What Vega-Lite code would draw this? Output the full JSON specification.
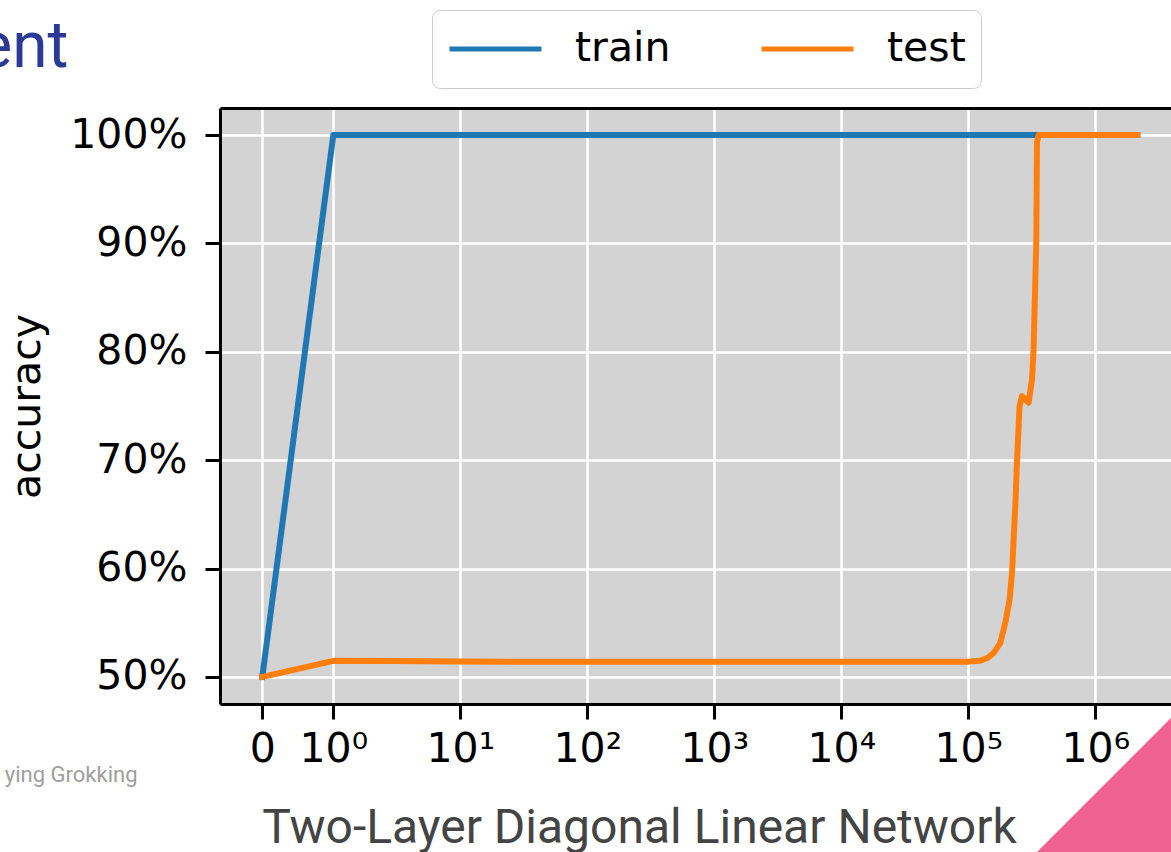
{
  "$schema": "https://vega.github.io/schema/vega-lite/v6.json",
  "width": 951,
  "height": 596,
  "autosize": {"type": "none"},
  "padding": {"left": 220, "top": 108, "right": 0, "bottom": 148},
  "background": "white",
  "config": {
    "font": "DejaVu Sans",
    "view": {"fill": "#d3d3d3", "stroke": null}
  },
  "resolve": {"axis": {"x": "independent", "y": "independent"}},
  "layer": [
    {
      "data": {
        "values": [
          {"step": 0, "accuracy": 0.5, "split": "train"},
          {"step": 1, "accuracy": 1.0, "split": "train"},
          {"step": 2140000, "accuracy": 1.0, "split": "train"},
          {"step": 0, "accuracy": 0.5, "split": "test"},
          {"step": 1, "accuracy": 0.5148, "split": "test"},
          {"step": 3, "accuracy": 0.5146, "split": "test"},
          {"step": 10, "accuracy": 0.5142, "split": "test"},
          {"step": 100, "accuracy": 0.5139, "split": "test"},
          {"step": 1000, "accuracy": 0.5139, "split": "test"},
          {"step": 10000, "accuracy": 0.5139, "split": "test"},
          {"step": 100000, "accuracy": 0.5141, "split": "test"},
          {"step": 124300, "accuracy": 0.5150, "split": "test"},
          {"step": 140000, "accuracy": 0.5172, "split": "test"},
          {"step": 158000, "accuracy": 0.5219, "split": "test"},
          {"step": 178700, "accuracy": 0.5314, "split": "test"},
          {"step": 195600, "accuracy": 0.5499, "split": "test"},
          {"step": 211400, "accuracy": 0.5712, "split": "test"},
          {"step": 221000, "accuracy": 0.5961, "split": "test"},
          {"step": 227400, "accuracy": 0.6266, "split": "test"},
          {"step": 235000, "accuracy": 0.6600, "split": "test"},
          {"step": 241600, "accuracy": 0.6978, "split": "test"},
          {"step": 253300, "accuracy": 0.7498, "split": "test"},
          {"step": 264700, "accuracy": 0.7591, "split": "test"},
          {"step": 298500, "accuracy": 0.7530, "split": "test"},
          {"step": 317500, "accuracy": 0.7745, "split": "test"},
          {"step": 326700, "accuracy": 0.8022, "split": "test"},
          {"step": 343000, "accuracy": 0.9011, "split": "test"},
          {"step": 347500, "accuracy": 0.9935, "split": "test"},
          {"step": 358000, "accuracy": 1.0, "split": "test"},
          {"step": 2140000, "accuracy": 1.0, "split": "test"}
        ]
      },
      "mark": {"type": "line", "strokeWidth": 6, "strokeCap": "square", "strokeJoin": "round"},
      "encoding": {
        "x": {
          "field": "step",
          "type": "quantitative",
          "scale": {
            "type": "symlog",
            "constant": 0.001,
            "domain": [-1, 0, 1, 1000000, 3940000],
            "range": [0, 42.3, 113.3, 875.3, 951],
            "nice": false,
            "zero": false
          },
          "axis": {
            "orient": "bottom",
            "values": [0, 1, 10, 100, 1000, 10000, 100000, 1000000],
            "labelExpr": "datum.value == 0 ? '0' : datum.value == 1 ? '10⁰' : datum.value == 10 ? '10¹' : datum.value == 100 ? '10²' : datum.value == 1000 ? '10³' : datum.value == 10000 ? '10⁴' : datum.value == 100000 ? '10⁵' : '10⁶'",
            "labelOverlap": false,
            "labelFlush": false,
            "labelFont": "DejaVu Sans",
            "labelFontSize": 41,
            "labelColor": "black",
            "labelPadding": 10,
            "domain": true,
            "domainColor": "black",
            "domainWidth": 3,
            "ticks": true,
            "tickColor": "black",
            "tickWidth": 3,
            "tickSize": 15,
            "grid": true,
            "gridColor": "white",
            "gridWidth": 2.5,
            "gridOpacity": 1,
            "title": "Two-Layer Diagonal Linear Network",
            "titleFont": "Roboto",
            "titleFontSize": 48,
            "titleFontWeight": "normal",
            "titleColor": "#444444",
            "titleX": 419,
            "titleY": 138,
            "titleAlign": "center",
            "titleBaseline": "alphabetic"
          }
        },
        "y": {
          "field": "accuracy",
          "type": "quantitative",
          "scale": {"domain": [0.475, 1.025], "nice": false, "zero": false},
          "axis": {
            "orient": "left",
            "values": [0.5, 0.6, 0.7, 0.8, 0.9, 1.0],
            "format": ".0%",
            "labelFont": "DejaVu Sans",
            "labelFontSize": 41,
            "labelColor": "black",
            "labelPadding": 18,
            "domain": true,
            "domainColor": "black",
            "domainWidth": 3,
            "ticks": true,
            "tickColor": "black",
            "tickWidth": 3,
            "tickSize": 15,
            "grid": true,
            "gridColor": "white",
            "gridWidth": 2.5,
            "gridOpacity": 1,
            "title": "accuracy",
            "titleFont": "DejaVu Sans",
            "titleFontSize": 41,
            "titleFontWeight": "normal",
            "titleColor": "black",
            "titleX": -181,
            "titleY": 298,
            "titleAngle": 270,
            "titleAlign": "center",
            "titleBaseline": "alphabetic"
          }
        },
        "color": {
          "field": "split",
          "type": "nominal",
          "scale": {"domain": ["train", "test"], "range": ["#1f77b4", "#ff7f0e"]},
          "legend": {
            "orient": "none",
            "legendX": 212,
            "legendY": -98,
            "direction": "horizontal",
            "title": null,
            "symbolType": "stroke",
            "symbolSize": 8464,
            "symbolStrokeWidth": 5,
            "symbolOpacity": 1,
            "labelFont": "DejaVu Sans",
            "labelFontSize": 41,
            "labelColor": "black",
            "labelOffset": 31,
            "columnPadding": 88,
            "padding": 15,
            "clipHeight": 48,
            "strokeColor": "#cccccc",
            "fillColor": "white",
            "cornerRadius": 8
          }
        }
      }
    },
    {
      "data": {"values": [{"corner": "accent"}]},
      "mark": {
        "type": "point",
        "shape": "M -1 0 L 0 -1 L 1 -1 L 1 1 L -1 1 Z",
        "filled": true,
        "color": "#f06292",
        "opacity": 1,
        "size": 71824,
        "strokeWidth": 0
      },
      "encoding": {
        "x": {
          "datum": 3940000,
          "type": "quantitative",
          "axis": {
            "orient": "top",
            "domain": true,
            "domainColor": "black",
            "domainWidth": 3,
            "ticks": false,
            "labels": false,
            "grid": false,
            "title": "ent",
            "titleFont": "Roboto",
            "titleFontSize": 64,
            "titleFontWeight": "normal",
            "titleColor": "#2a3a96",
            "titleX": -152,
            "titleY": -42,
            "titleAngle": 0,
            "titleAlign": "right",
            "titleBaseline": "alphabetic"
          }
        },
        "y": {
          "datum": 0.3384,
          "type": "quantitative",
          "axis": {
            "orient": "right",
            "domain": false,
            "ticks": false,
            "labels": false,
            "grid": false,
            "title": "ying Grokking",
            "titleFont": "Roboto",
            "titleFontSize": 22,
            "titleFontWeight": "normal",
            "titleColor": "#9e9e9e",
            "titleX": -1034,
            "titleY": 673,
            "titleAngle": 0,
            "titleAlign": "right",
            "titleBaseline": "alphabetic"
          }
        }
      }
    }
  ]
}
